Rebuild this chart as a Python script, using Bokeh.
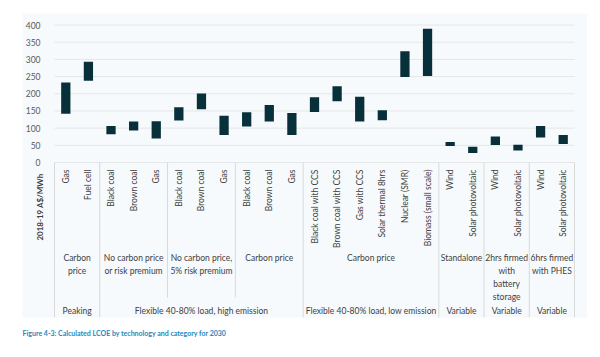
from bokeh.plotting import figure
from bokeh.models import Range1d, LinearAxis, FixedTicker, ColumnDataSource
from bokeh.core.properties import value
from bokeh.embed import file_html
from bokeh.resources import INLINE
import math

# ---------------- data ----------------
technologies = ["Gas", "Fuel cell",
                "Black coal", "Brown coal", "Gas",
                "Black coal", "Brown coal", "Gas",
                "Black coal", "Brown coal", "Gas",
                "Black coal with CCS", "Brown coal with CCS", "Gas with CCS",
                "Solar thermal 8hrs", "Nuclear (SMR)", "Biomass (small scale)",
                "Wind", "Solar photovoltaic",
                "Wind", "Solar photovoltaic",
                "Wind", "Solar photovoltaic"]
lcoe_low = [142, 238, 82, 93, 70, 122, 155, 80, 105, 119, 80,
            147, 178, 119, 123, 249, 252, 48, 28, 51, 35, 73, 54]
lcoe_high = [233, 293, 106, 119, 120, 161, 201, 136, 146, 167, 144,
             190, 222, 191, 152, 324, 389, 60, 46, 76, 52, 106, 80]
subgroups = ["Carbon\nprice", "No carbon price\nor risk premium",
             "No carbon price,\n5% risk premium", "Carbon price", "Carbon price",
             "Standalone", "2hrs firmed\nwith\nbattery\nstorage", "6hrs firmed\nwith PHES"]
subgroup_sizes = [2, 3, 3, 3, 6, 2, 2, 2]
groups = ["Peaking", "Flexible 40-80% load, high emission",
          "Flexible 40-80% load, low emission", "Variable", "Variable", "Variable"]
group_sizes = [2, 9, 6, 2, 2, 2]
y_ticks = [0, 50, 100, 150, 200, 250, 300, 350, 400]
y_title = "2018-19 A$/MWh"
caption = "Figure 4-3: Calculated LCOE by technology and category for 2030"

# ---------------- layout ----------------
W, H = 600, 357
N = len(technologies)
PX_L, PX_R = 54, 574          # category area horizontally
PX_Y0, PX_Y400 = 162, 24.5     # value axis
ppu = (PX_R - PX_L) / N
ppv = (PX_Y0 - PX_Y400) / 400.0

def dx(px):
    return -0.5 + (px - PX_L) / ppu

def dy(py):
    return (PX_Y0 - py) / ppv

FONT = "Lato"
TXT = "#404040"
LINE = "#d9d9d9"
BAR = "#07303b"

p = figure(width=W, height=H, x_range=Range1d(dx(0), dx(W)), y_range=Range1d(dy(H), dy(0)),
           x_axis_type=None, y_axis_type=None, toolbar_location=None,
           output_backend="svg", min_border=0, outline_line_color=None,
           background_fill_color="white", border_fill_color="white")

# panel background
p.quad(left=[dx(22)], right=[dx(586.5)], top=[dy(13)], bottom=[dy(317)],
       fill_color="#f7fafc", line_color=None)

# gridlines
p.segment(x0=[-0.5] * len(y_ticks), x1=[N - 0.5] * len(y_ticks), y0=y_ticks, y1=y_ticks,
          line_color="#e4e6e8", line_width=1)

# separators
group_edges = [0]
for s in group_sizes:
    group_edges.append(group_edges[-1] + s)
sub_edges = [0]
for s in subgroup_sizes:
    sub_edges.append(sub_edges[-1] + s)
full = [e - 0.5 for e in group_edges]
part = [e - 0.5 for e in sub_edges if e not in group_edges]
p.segment(x0=full, x1=full, y0=[0] * len(full), y1=[dy(317)] * len(full), line_color=LINE, line_width=1)
p.segment(x0=part, x1=part, y0=[0] * len(part), y1=[dy(297)] * len(part), line_color=LINE, line_width=1)

# bars
src = ColumnDataSource(dict(x=list(range(N)), low=lcoe_low, high=lcoe_high, tech=technologies))
p.vbar(x="x", width=0.41, bottom="low", top="high", source=src, fill_color=BAR, line_color=None)

# y axis
yaxis = LinearAxis(fixed_location=-0.5, ticker=FixedTicker(ticks=y_ticks),
                   axis_line_color=None, major_tick_line_color=None, minor_tick_line_color=None,
                   major_label_standoff=8, major_label_text_font_size="8.5px",
                   major_label_text_color="#595959", major_label_text_font=FONT)
p.add_layout(yaxis, "left")

# category labels
p.text(x="x", y=dy(169), text="tech", source=src, angle=math.pi / 2,
       text_align="right", text_baseline="middle", text_font=value(FONT),
       text_font_size="8.5px", text_color=TXT)

# y title
p.text(x=[dx(39)], y=[dy(173)], text=[y_title], angle=math.pi / 2, text_align="right",
       text_baseline="middle", text_font=value(FONT), text_font_size="8px",
       text_font_style="bold", text_color=TXT)

# subgroup labels
sub_centers = [(sub_edges[i] + sub_edges[i + 1]) / 2 - 0.5 for i in range(len(subgroups))]
p.text(x=sub_centers, y=[dy(252)] * len(subgroups), text=subgroups, text_align="center",
       text_baseline="top", text_font=value(FONT), text_font_size="8.5px", text_color=TXT,
       text_line_height=1.3)

# group labels
grp_centers = [(group_edges[i] + group_edges[i + 1]) / 2 - 0.5 for i in range(len(groups))]
p.text(x=grp_centers, y=[dy(310)] * len(groups), text=groups, text_align="center",
       text_baseline="middle", text_font=value(FONT), text_font_size="8.5px", text_color=TXT)

# caption
p.text(x=[dx(22)], y=[dy(332)], text=[caption], text_align="left", text_baseline="middle",
       text_font=value(FONT), text_font_size="7px", text_font_style="bold", text_color="#2389bd")

open("out.html", "w").write(file_html(p, INLINE))
